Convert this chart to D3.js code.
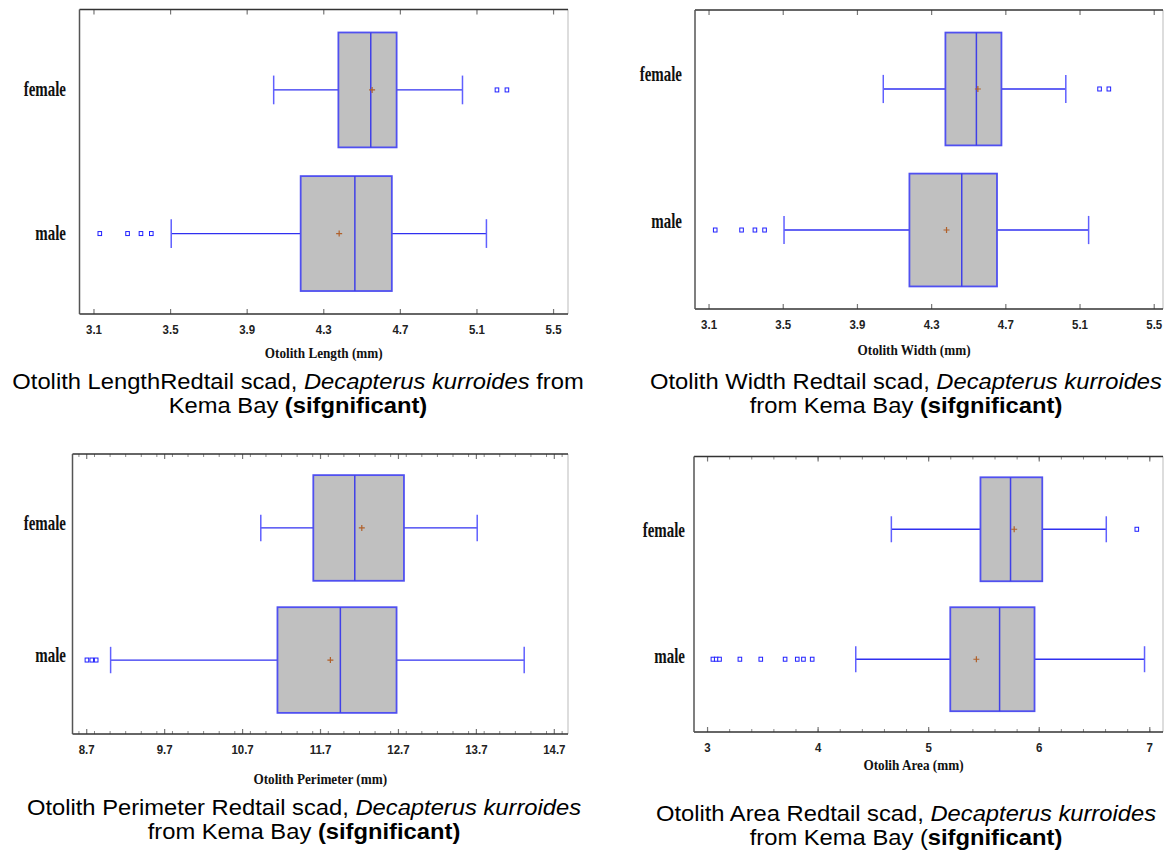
<!DOCTYPE html>
<html><head><meta charset="utf-8">
<script src="https://cdn.jsdelivr.net/npm/d3@7"></script>
<style>body{margin:0;background:#fff} svg{display:block}</style></head>
<body>
<svg id="c" width="1167" height="850"></svg>
<script>
const categories = ["female", "male"];

// Otolith Length: [lower whisker, Q1, median, Q3, upper whisker] per category
const lengthTicks = [3.1, 3.5, 3.9, 4.3, 4.7, 5.1, 5.5];
const lengthBox = [[4.041, 4.379, 4.548, 4.683, 5.027], [3.506, 4.182, 4.465, 4.658, 5.152]];
const lengthMean = [4.555, 4.383];
const lengthOutliers = [[5.207, 5.259], [3.133, 3.278, 3.348, 3.402]];

// Otolith Width
const widthTicks = [3.1, 3.5, 3.9, 4.3, 4.7, 5.1, 5.5];
const widthBox = [[4.042, 4.377, 4.544, 4.679, 5.026], [3.507, 4.183, 4.465, 4.655, 5.149]];
const widthMean = [4.552, 4.383];
const widthOutliers = [[5.208, 5.258], [3.136, 3.278, 3.350, 3.402]];

// Otolith Perimeter
const perimeterTicks = [8.7, 9.7, 10.7, 11.7, 12.7, 13.7, 14.7];
const perimeterBox = [[10.94, 11.614, 12.146, 12.777, 13.717], [9.013, 11.154, 11.961, 12.682, 14.32]];
const perimeterMean = [12.236, 11.833];
const perimeterOutliers = [[], [8.709, 8.771, 8.828]];

// Otolith Area
const areaTicks = [3, 4, 5, 6, 7];
const areaBox = [[4.667, 5.473, 5.745, 6.032, 6.611], [4.345, 5.200, 5.646, 5.962, 6.957]];
const areaMean = [5.778, 5.436];
const areaOutliers = [[6.887], [3.053, 3.083, 3.113, 3.297, 3.486, 3.706, 3.816, 3.872, 3.951]];

const axisTitles = ["Otolith Length (mm)", "Otolith Width (mm)", "Otolith Perimeter (mm)", "Otolih Area (mm)"];

const panels = [
  {title: axisTitles[0], box: lengthBox, mean: lengthMean, out: lengthOutliers, ticks: lengthTicks, minorStep: 0, fmt: d3.format(".1f"),
   domain: [3.027, 5.578], f: {l: 79.5, t: 9.5, r: 568, b: 314}, labelDy: [0, 0], labelX: 66, titleY: 358},
  {title: axisTitles[1], box: widthBox, mean: widthMean, out: widthOutliers, ticks: widthTicks, minorStep: 0, fmt: d3.format(".1f"),
   domain: [3.027, 5.55], f: {l: 695, t: 10, r: 1163, b: 309}, labelDy: [-14, -8], labelX: 682, titleY: 355},
  {title: axisTitles[2], box: perimeterBox, mean: perimeterMean, out: perimeterOutliers, ticks: perimeterTicks, minorStep: 0.2, fmt: d3.format(".1f"),
   domain: [8.524, 14.882], f: {l: 72.5, t: 454, r: 568, b: 734}, labelDy: [-4, -4], labelX: 66, titleY: 784},
  {title: axisTitles[3], box: areaBox, mean: areaMean, out: areaOutliers, ticks: areaTicks, minorStep: 0.2, fmt: d3.format("d"),
   domain: [2.882, 7.124], f: {l: 694, t: 456.5, r: 1163, b: 732}, labelDy: [2, -2], labelX: 685, titleY: 770}
];

const svg = d3.select("#c");

panels.forEach(p => {
  const {l, t, r, b} = p.f;
  const x = d3.scaleLinear().domain(p.domain).range([l, r]);
  const y = d3.scalePoint().domain(categories).range([t, b]).padding(0.56);
  const step = y.step();
  const bh = 0.8 * step;
  const capH = 0.2 * step;
  const g = svg.append("g");

  // minor ticks
  if (p.minorStep > 0) {
    const minor = d3.range(Math.ceil(p.domain[0] / p.minorStep) * p.minorStep, p.domain[1], p.minorStep)
      .map(v => +v.toFixed(3));
    g.append("g").attr("transform", `translate(0,${b})`)
      .call(d3.axisBottom(x).tickValues(minor).tickSize(-3).tickFormat(""))
      .call(s => s.select(".domain").remove())
      .call(s => s.selectAll("line").attr("stroke", "#888"));
    g.append("g").attr("transform", `translate(0,${t})`)
      .call(d3.axisTop(x).tickValues(minor).tickSize(-3).tickFormat(""))
      .call(s => s.select(".domain").remove())
      .call(s => s.selectAll("line").attr("stroke", "#888"));
  }
  // major ticks
  const ax = g.append("g").attr("transform", `translate(0,${b})`)
    .call(d3.axisBottom(x).tickValues(p.ticks).tickSize(-5).tickPadding(10).tickFormat(p.fmt))
    .call(s => s.select(".domain").remove())
    .call(s => s.selectAll("line").attr("stroke", "#777").attr("stroke-width", 1.2));
  ax.selectAll("text")
    .attr("font-family", "'Liberation Sans', Arial, sans-serif")
    .attr("font-weight", "bold").attr("font-size", 13.5).attr("fill", "#222")
    .attr("transform", "scale(0.85,1)");
  g.append("g").attr("transform", `translate(0,${t})`)
    .call(d3.axisTop(x).tickValues(p.ticks).tickSize(-5).tickFormat(""))
    .call(s => s.select(".domain").remove())
    .call(s => s.selectAll("line").attr("stroke", "#777").attr("stroke-width", 1.2));

  // frame
  g.append("line").attr("x1", r).attr("x2", r).attr("y1", t).attr("y2", b).attr("stroke", "#bbb").attr("stroke-width", 1);
  g.append("line").attr("x1", l).attr("x2", r).attr("y1", t).attr("y2", t).attr("stroke", "#333").attr("stroke-width", 1.5);
  g.append("line").attr("x1", l).attr("x2", r).attr("y1", b).attr("y2", b).attr("stroke", "#333").attr("stroke-width", 1.5);
  g.append("line").attr("x1", l).attr("x2", l).attr("y1", t).attr("y2", b).attr("stroke", "#555").attr("stroke-width", 1.5);

  categories.forEach((c, i) => {
    const [wl, q1, med, q3, wh] = p.box[i];
    const cy = y(c);
    const blue = "#3030f0";
    // whiskers
    g.append("line").attr("x1", x(wl)).attr("x2", x(q1)).attr("y1", cy).attr("y2", cy).attr("stroke", blue).attr("stroke-width", 1.3);
    g.append("line").attr("x1", x(q3)).attr("x2", x(wh)).attr("y1", cy).attr("y2", cy).attr("stroke", blue).attr("stroke-width", 1.3);
    [wl, wh].forEach(v => g.append("line").attr("x1", x(v)).attr("x2", x(v)).attr("y1", cy - capH / 2).attr("y2", cy + capH / 2)
      .attr("stroke", "#6060ff").attr("stroke-width", 1.5));
    // box
    g.append("rect").attr("x", x(q1)).attr("y", cy - bh / 2).attr("width", x(q3) - x(q1)).attr("height", bh)
      .attr("fill", "#c0c0c0").attr("stroke", "#5050f0").attr("stroke-width", 1.8);
    g.append("line").attr("x1", x(med)).attr("x2", x(med)).attr("y1", cy - bh / 2).attr("y2", cy + bh / 2)
      .attr("stroke", "#4040e8").attr("stroke-width", 1.5);
    // mean +
    const mx = x(p.mean[i]);
    g.append("path").attr("d", `M${mx - 3},${cy}H${mx + 3}M${mx},${cy - 3}V${cy + 3}`)
      .attr("stroke", "#b0602a").attr("stroke-width", 1.2);
    // outliers
    g.selectAll(null).data(p.out[i]).join("rect")
      .attr("x", d => x(d) - 1.8).attr("y", cy - 2).attr("width", 3.6).attr("height", 4)
      .attr("fill", "#fff").attr("stroke", "#2020ff").attr("stroke-width", 1);
    // category label
    g.append("g").attr("transform", `translate(${p.labelX},${cy + 6 + p.labelDy[i]}) scale(0.68,1)`)
      .append("text").attr("text-anchor", "end")
      .attr("font-family", "'Liberation Serif', 'Times New Roman', serif").attr("font-weight", "bold")
      .attr("font-size", 22).attr("fill", "#111").text(c);
  });

  // axis title
  g.append("g").attr("transform", `translate(${(l + r) / 2 + ((l + r) / 2 > 600 ? -15 : 0) },${p.titleY}) scale(0.88,1)`)
    .append("text").attr("text-anchor", "middle")
    .attr("font-family", "'Liberation Serif', 'Times New Roman', serif").attr("font-weight", "bold")
    .attr("font-size", 15).attr("fill", "#111").text(p.title);
});

// captions
const captions = [
  {x: 298, y: 389, lines: [
    [["Otolith LengthRedtail scad, ", ""], ["Decapterus kurroides", "i"], [" from", ""]],
    [["Kema Bay ", ""], ["(sifgnificant)", "b"]]]},
  {x: 906, y: 389, lines: [
    [["Otolith Width Redtail scad, ", ""], ["Decapterus kurroides", "i"]],
    [["from Kema Bay ", ""], ["(sifgnificant)", "b"]]]},
  {x: 304, y: 815, lines: [
    [["Otolith Perimeter Redtail scad, ", ""], ["Decapterus kurroides", "i"]],
    [["from Kema Bay ", ""], ["(sifgnificant)", "b"]]]},
  {x: 906, y: 821, lines: [
    [["Otolith Area Redtail scad, ", ""], ["Decapterus kurroides", "i"]],
    [["from Kema Bay (", ""], ["sifgnificant)", "b"]]]}
];
captions.forEach(cp => {
  cp.lines.forEach((ln, li) => {
    const t = svg.append("g").attr("transform", `translate(${cp.x},${cp.y + li * 24}) scale(1.08,1)`)
      .append("text").attr("text-anchor", "middle")
      .attr("font-family", "'Liberation Sans', Arial, sans-serif").attr("font-size", 22).attr("fill", "#000");
    ln.forEach(([s, st]) => {
      const ts = t.append("tspan").text(s);
      if (st === "i") ts.attr("font-style", "italic");
      if (st === "b") ts.attr("font-weight", "bold");
    });
  });
});
</script>
</body></html>
